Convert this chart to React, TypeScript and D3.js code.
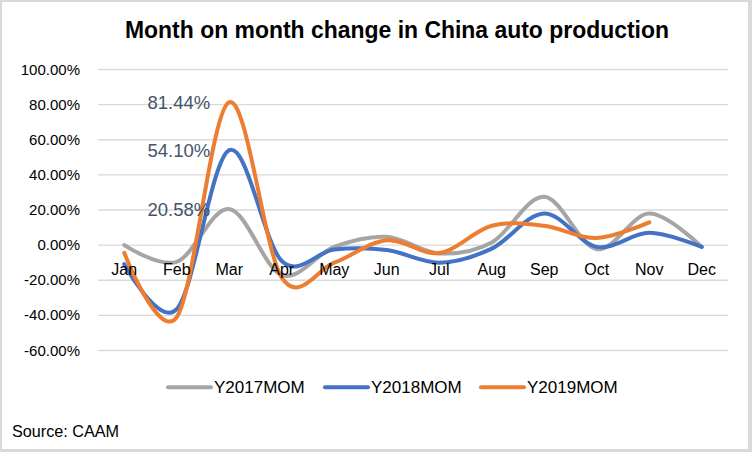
import React from "react";
import * as d3 from "d3";

const months = ["Jan", "Feb", "Mar", "Apr", "May", "Jun", "Jul", "Aug", "Sep", "Oct", "Nov", "Dec"];
const y2017 = [0, -9.5, 20.58, -17, -1, 4.7, -4.7, 1.5, 27.5, -2.3, 18, -1];
const y2018 = [-10.8, -36.5, 54.1, -9, -2.5, -2.8, -10, -2, 18, -1, 7, -1];
const y2019 = [-4.4, -41, 81.44, -18.5, -10, 2.8, -4.5, 11, 11, 4, 13];
const yTicks = [100, 80, 60, 40, 20, 0, -20, -40, -60];
const seriesNames = ["Y2017MOM", "Y2018MOM", "Y2019MOM"];
const seriesColors = ["#A5A5A5", "#4472C4", "#ED7D31"];
const marchLabels = [20.58, 54.1, 81.44];

const W = 752;
const H = 452;
const FONT = "'Liberation Sans', Arial, sans-serif";

export default function App() {
  const x = d3.scaleBand<string>().domain(months).range([98, 728]);
  const cx = (m: string) => (x(m) as number) + x.bandwidth() / 2;
  const y = d3.scaleLinear().domain([-60, 100]).range([350.5, 69.5]);
  const line = d3
    .line<number>()
    .x((_, i) => cx(months[i]))
    .y((d) => y(d))
    .curve(d3.curveCardinal.tension(0));
  const series = [y2017, y2018, y2019];
  const legendX = [168, 325, 481];

  return (
    <div style={{ position: "absolute", left: 0, top: 0 }}>
      <svg width={W} height={H} style={{ display: "block" }}>
        <rect x={0} y={0} width={W} height={H} fill="#D9D9D9" />
        <rect x={2} y={2} width={746} height={447} fill="#FFFFFF" />
        <text
          x={397}
          y={38}
          textAnchor="middle"
          fontFamily="'Liberation Sans Narrow', 'Liberation Sans', Arial, sans-serif"
          fontWeight="bold"
          fontSize={24}
          textLength={544}
          lengthAdjust="spacingAndGlyphs"
          fill="#000"
        >
          Month on month change in China auto production
        </text>
        {yTicks.map((t) => (
          <g key={t}>
            <line x1={98} x2={728} y1={y(t)} y2={y(t)} stroke="#D9D9D9" strokeWidth={1.3} />
            <text x={80} y={y(t) + 5} textAnchor="end" fontFamily={FONT} fontSize={15} fill="#000">
              {t.toFixed(2)}%
            </text>
          </g>
        ))}
        {series.map((s, i) => (
          <path
            key={i}
            d={line(s) as string}
            fill="none"
            stroke={seriesColors[i]}
            strokeWidth={4}
            strokeLinecap="round"
            strokeLinejoin="round"
          />
        ))}
        {months.map((m) => (
          <text key={m} x={cx(m)} y={y(0) + 30} textAnchor="middle" fontFamily={FONT} fontSize={16} fill="#000">
            {m}
          </text>
        ))}
        {marchLabels.map((v) => (
          <text
            key={v}
            x={cx("Mar") - 19}
            y={y(v)}
            dy="0.36em"
            textAnchor="end"
            fontFamily={FONT}
            fontSize={18.5}
            fill="#44546A"
          >
            {v.toFixed(2)}%
          </text>
        ))}
        {seriesNames.map((n, i) => (
          <g key={n}>
            <line
              x1={legendX[i]}
              x2={legendX[i] + 43}
              y1={387.3}
              y2={387.3}
              stroke={seriesColors[i]}
              strokeWidth={4}
              strokeLinecap="round"
            />
            <text x={legendX[i] + 46} y={393.3} fontFamily={FONT} fontSize={17} fill="#000">
              {n}
            </text>
          </g>
        ))}
        <text x={12} y={437.3} fontFamily={FONT} fontSize={16.2} fill="#000">
          Source: CAAM
        </text>
      </svg>
    </div>
  );
}
